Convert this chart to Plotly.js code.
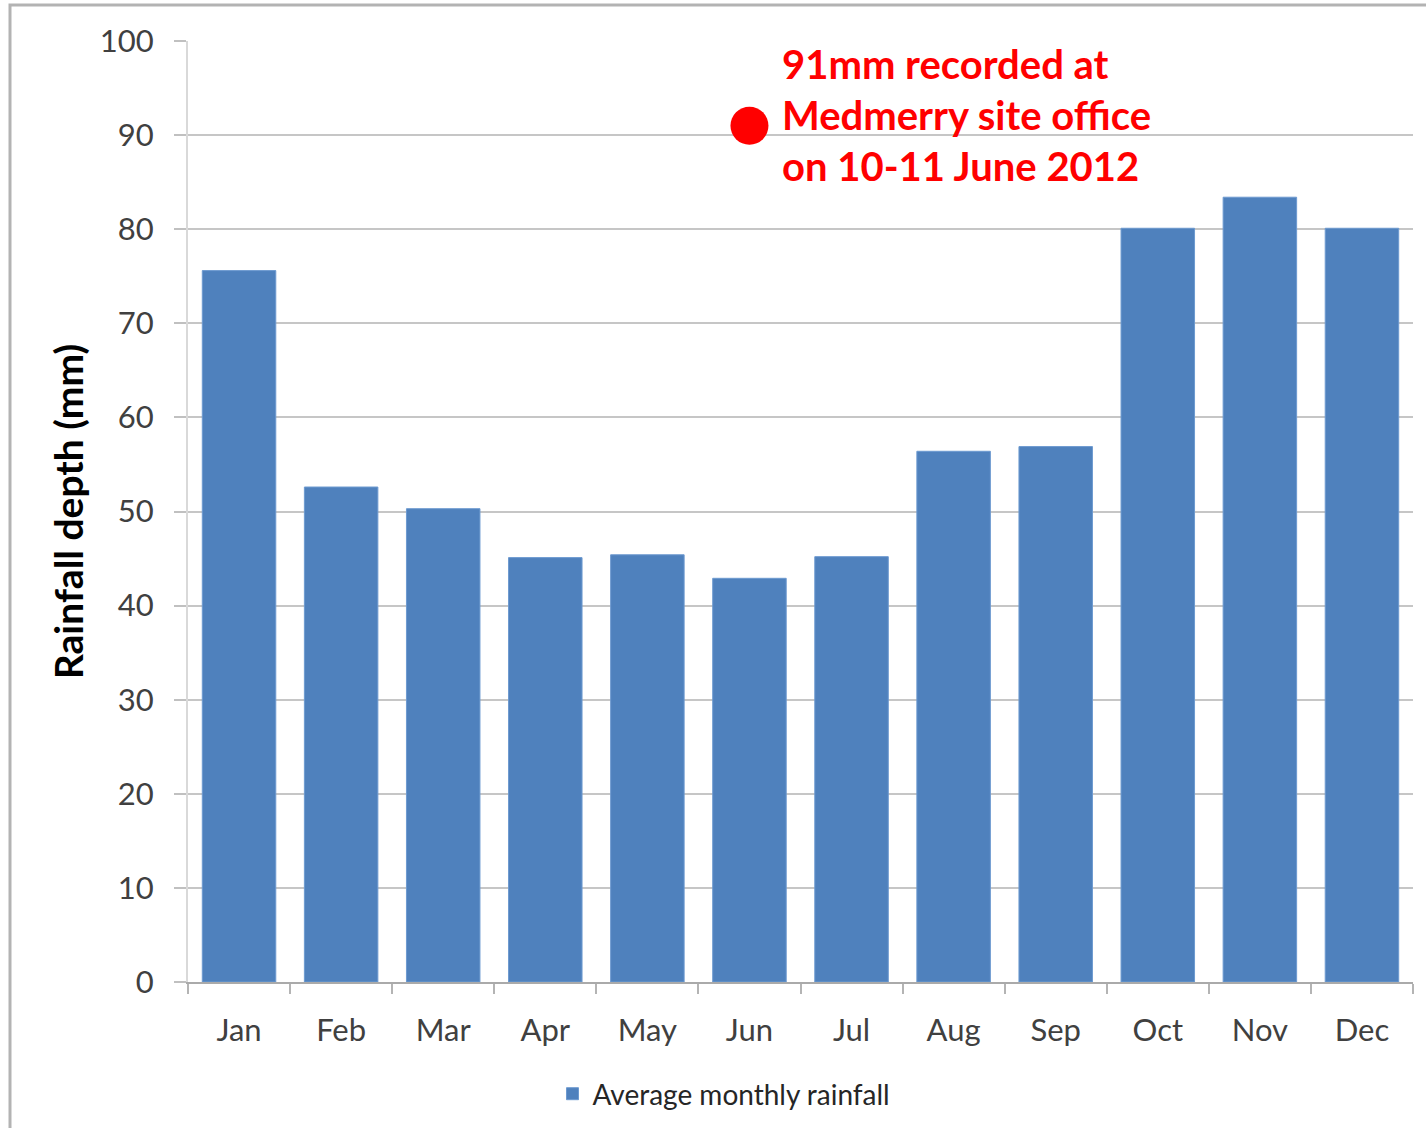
<!DOCTYPE html>
<html>
<head>
<meta charset="utf-8">
<script src="https://cdn.plot.ly/plotly-3.0.1.min.js"></script>
<style>
html,body{margin:0;padding:0;background:#fff;}
#chart{width:1426px;height:1128px;}
</style>
</head>
<body>
<div id="chart"></div>
<script>
const months = ["Jan","Feb","Mar","Apr","May","Jun","Jul","Aug","Sep","Oct","Nov","Dec"];
const avgRainfall = [75.6, 52.6, 50.3, 45.1, 45.4, 42.9, 45.2, 56.4, 56.9, 80.1, 83.4, 80.1];
const seriesName = "Average monthly rainfall";
const eventMonth = ["Jun"];
const eventValue = [91];
const eventLines = ["91mm recorded at", "Medmerry site office", "on 10-11 June 2012"];
const yTicks = [0,10,20,30,40,50,60,70,80,90,100];

const font = "Lato, 'Open Sans', sans-serif";

const traces = [
  {
    type: "bar",
    x: months,
    y: avgRainfall,
    name: seriesName,
    marker: {color: "#4f81bd", line: {color: "#6d9ad0", width: 1}},
    hoverinfo: "x+y"
  },
  {
    type: "scatter",
    mode: "markers",
    x: eventMonth,
    y: eventValue,
    showlegend: false,
    marker: {color: "#ff0000", size: 38, symbol: "circle"},
    hoverinfo: "y"
  }
];

const annotations = eventLines.map((t, i) => ({
  text: t,
  xref: "paper", yref: "paper",
  x: (780 - 188) / 1225,
  y: (982 - (64 + i * 51)) / 941,
  xanchor: "left", yanchor: "middle",
  showarrow: false,
  font: {family: font, size: 40, color: "#ff0000", weight: "bold"}
}));

const layout = {
  width: 1426, height: 1128,
  margin: {l: 188, r: 13, t: 41, b: 146, autoexpand: false},
  paper_bgcolor: "#ffffff",
  plot_bgcolor: "#ffffff",
  bargap: 0.28,
  showlegend: true,
  legend: {
    orientation: "h",
    x: (724 - 188) / 1225, xanchor: "center",
    y: (982 - 1094) / 941, yanchor: "middle",
    font: {family: font, size: 28, color: "#262626"},
    itemwidth: 30
  },
  xaxis: {
    type: "category",
    categoryarray: months,
    tickson: "boundaries",
    ticks: "outside",
    ticklen: 10,
    tickwidth: 2,
    tickcolor: "#b4b4b4",
    showline: true,
    linecolor: "#aaaaaa",
    linewidth: 2,
    showgrid: false,
    tickfont: {family: font, size: 31, color: "#404040"},
    ticklabelstandoff: 20,
    automargin: false,
    fixedrange: true
  },
  yaxis: {
    range: [0, 100],
    tickvals: yTicks,
    ticktext: yTicks.map(String),
    ticks: "outside",
    ticklen: 12,
    tickwidth: 2,
    tickcolor: "#c0c0c0",
    showline: true,
    linecolor: "#d9d9d9",
    linewidth: 2,
    showgrid: true,
    gridcolor: "#c6c6c6",
    gridwidth: 1.5,
    zeroline: false,
    tickfont: {family: font, size: 31, color: "#404040"},
    ticklabelstandoff: 14,
    automargin: false,
    title: {
      text: "Rainfall depth (mm)",
      font: {family: font, size: 39, color: "#000000", weight: "bold"},
      standoff: 4
    },
    fixedrange: true
  },
  annotations: annotations,
  shapes: [
    {
      type: "rect", xref: "paper", yref: "paper",
      x0: (10 - 188) / 1225, x1: 1.2,
      y0: -0.3, y1: (982 - 5) / 941,
      line: {color: "#b3b3b3", width: 3},
      fillcolor: "rgba(0,0,0,0)",
      layer: "below"
    }
  ]
};

Plotly.newPlot("chart", traces, layout, {displayModeBar: false, staticPlot: false});
</script>
</body>
</html>
